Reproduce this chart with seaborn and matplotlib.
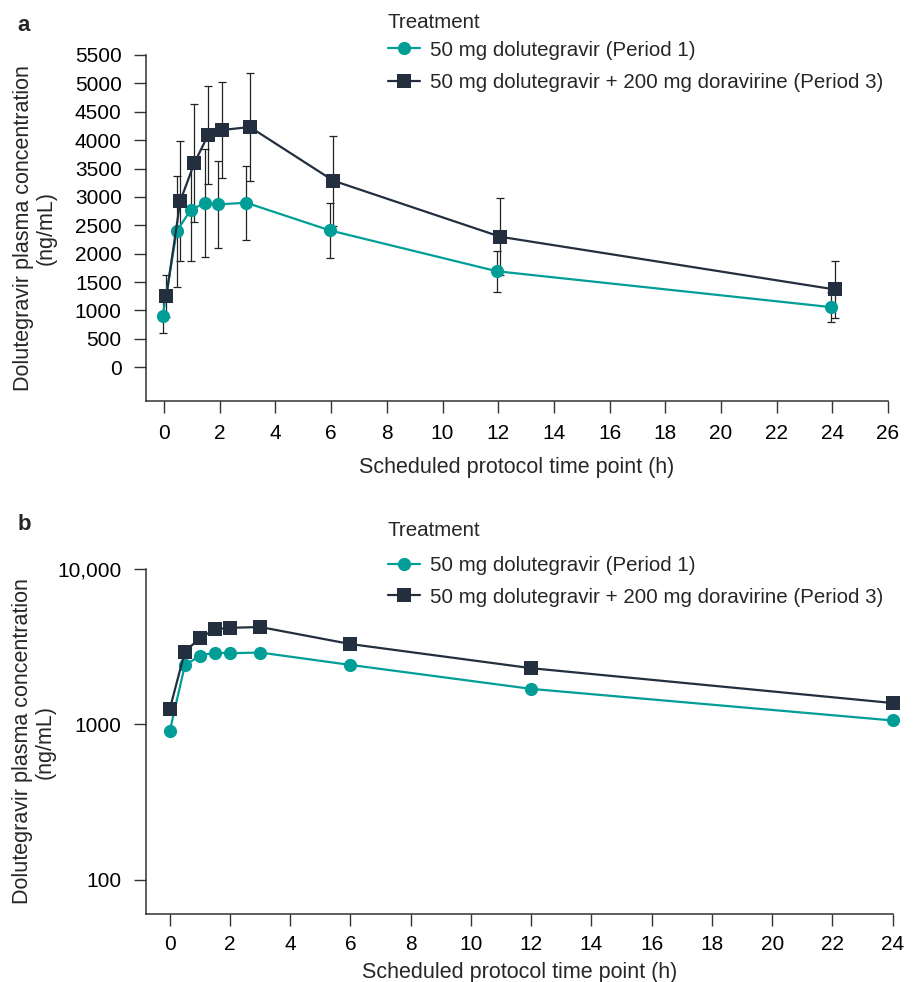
import numpy as np
import pandas as pd
import matplotlib
matplotlib.use("Agg")
import matplotlib.pyplot as plt
import matplotlib.ticker as mticker
import seaborn as sns

# ---- data ----
times = [0, 0.5, 1, 1.5, 2, 3, 6, 12, 24]
treatments = ["50 mg dolutegravir (Period 1)",
              "50 mg dolutegravir + 200 mg doravirine (Period 3)"]
dtg_mean = [904, 2392, 2768, 2891, 2868, 2897, 2410, 1690, 1058]
dtg_sd = [310, 980, 905, 950, 760, 650, 490, 365, 260]
dor_mean = [1252, 2927, 3591, 4090, 4178, 4231, 3285, 2297, 1370]
dor_sd = [365, 1057, 1040, 870, 850, 950, 790, 680, 495]
yticks_a = list(range(0, 5501, 500))
xticks_a = list(range(0, 27, 2))
xticks_b = list(range(0, 25, 2))
yticks_b = [100, 1000, 10000]
yticklabels_b = ["100", "1000", "10,000"]

teal = "#009E96"
navy = "#232F3E"
axcol = "#333333"

df = pd.DataFrame({
    "time": times * 2,
    "conc": dtg_mean + dor_mean,
    "sd": dtg_sd + dor_sd,
    "Treatment": [treatments[0]] * len(times) + [treatments[1]] * len(times),
})
dodge = {treatments[0]: -0.05, treatments[1]: 0.08}
df["time_a"] = df["time"] + df["Treatment"].map(dodge)

sns.set_theme(style="ticks")
plt.rcParams["font.family"] = ["Liberation Sans", "DejaVu Sans"]
plt.rcParams["font.size"] = 15
plt.rcParams["axes.edgecolor"] = axcol
plt.rcParams["axes.linewidth"] = 1.1
plt.rcParams["xtick.color"] = axcol
plt.rcParams["ytick.color"] = axcol
plt.rcParams["xtick.labelcolor"] = "black"
plt.rcParams["ytick.labelcolor"] = "black"
plt.rcParams["xtick.major.size"] = 8.5
plt.rcParams["ytick.major.size"] = 8.5
plt.rcParams["xtick.major.width"] = 1.0
plt.rcParams["ytick.major.width"] = 1.0

FS_TICK = 15
FS_LAB = 15.5
FS_LEG = 14.8

fig = plt.figure(figsize=(9.15, 9.82), dpi=100)
ax_a = fig.add_axes([0.1596, 0.592, 0.9705 - 0.1596, 0.944 - 0.592])
ax_b = fig.add_axes([0.1592, 0.0692, 0.9756 - 0.1592, 0.4206 - 0.0692])

palette = {treatments[0]: teal, treatments[1]: navy}
markers = {treatments[0]: "o", treatments[1]: "s"}


def add_legend(ax, ycenter, spacing):
    h, l = ax.get_legend_handles_labels()
    ax.legend(h, l, loc="center left",
              bbox_to_anchor=(388 / 915, ycenter), bbox_transform=fig.transFigure,
              frameon=False, borderpad=0, borderaxespad=0,
              fontsize=FS_LEG, handlelength=1.55,
              handletextpad=0.5, labelspacing=spacing)


# ---- panel a ----
for tr in treatments:
    sub = df[df["Treatment"] == tr]
    ax_a.errorbar(sub["time_a"], sub["conc"], yerr=sub["sd"], fmt="none",
                  ecolor="#222222", elinewidth=0.9, capsize=3.2, capthick=0.9, zorder=1)
sns.lineplot(data=df, x="time_a", y="conc", hue="Treatment", style="Treatment",
             palette=palette, markers=markers, dashes=False, markersize=9.5,
             markeredgewidth=0, linewidth=1.6, ax=ax_a, zorder=3, clip_on=False)
ax_a.set_xlim(-0.65, 26)
ax_a.set_ylim(-590, 5500)
ax_a.set_xticks(xticks_a)
ax_a.set_yticks(yticks_a)
ax_a.set_xlabel("Scheduled protocol time point (h)", fontsize=FS_LAB, labelpad=10)
ax_a.set_ylabel("Dolutegravir plasma concentration\n(ng/mL)", fontsize=FS_LAB,
                linespacing=1.1)
ax_a.yaxis.set_label_coords(-0.121, 0.5)
ax_a.tick_params(axis="x", labelsize=FS_TICK, pad=8.5)
ax_a.tick_params(axis="y", labelsize=FS_TICK, pad=9)
sns.despine(ax=ax_a)
ax_a.legend_.remove()
add_legend(ax_a, 1 - 66.5 / 982, 0.68)
fig.text(388 / 915, 1 - 23 / 982, "Treatment", fontsize=FS_LEG, va="center", ha="left")
fig.text(0.019, 1 - 31 / 982, "a", fontsize=16, fontweight="bold", va="baseline")

# ---- panel b ----
sns.lineplot(data=df, x="time", y="conc", hue="Treatment", style="Treatment",
             palette=palette, markers=markers, dashes=False, markersize=9.5,
             markeredgewidth=0, linewidth=1.6, ax=ax_b, clip_on=False)
ax_b.set_yscale("log")
ax_b.set_xlim(-0.8, 24)
ax_b.set_ylim(60, 10000)
ax_b.set_xticks(xticks_b)
ax_b.yaxis.set_major_locator(mticker.FixedLocator(yticks_b))
ax_b.yaxis.set_major_formatter(mticker.FixedFormatter(yticklabels_b))
ax_b.yaxis.set_minor_locator(mticker.NullLocator())
ax_b.set_xlabel("Scheduled protocol time point (h)", fontsize=FS_LAB, labelpad=6)
ax_b.set_ylabel("Dolutegravir plasma concentration\n(ng/mL)", fontsize=FS_LAB,
                linespacing=1.1)
ax_b.yaxis.set_label_coords(-0.120, 0.5)
ax_b.tick_params(axis="x", labelsize=FS_TICK, pad=6.5)
ax_b.tick_params(axis="y", labelsize=FS_TICK, pad=9)
sns.despine(ax=ax_b)
ax_b.legend_.remove()
add_legend(ax_b, 1 - 581.5 / 982, 0.6)
fig.text(388 / 915, 1 - 530 / 982, "Treatment", fontsize=FS_LEG, va="center", ha="left")
fig.text(0.019, 1 - 530 / 982, "b", fontsize=16, fontweight="bold", va="baseline")

fig.savefig("out.png", dpi=100)
